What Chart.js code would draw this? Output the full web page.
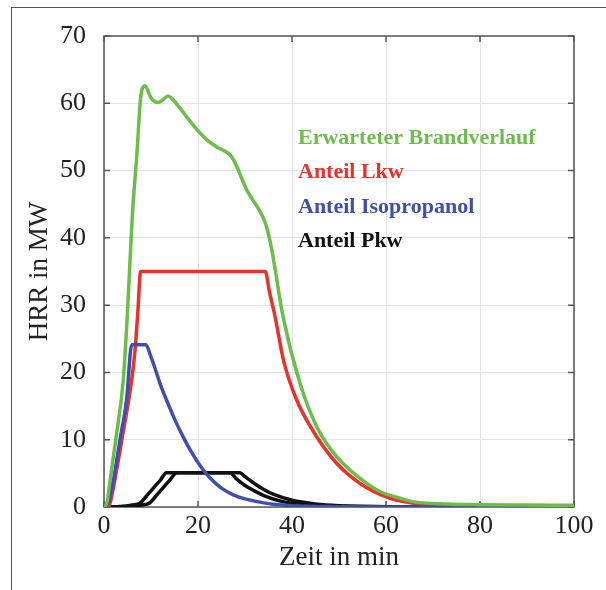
<!DOCTYPE html>
<html>
<head>
<meta charset="utf-8">
<title>HRR in MW</title>
<script src="https://cdn.jsdelivr.net/npm/chart.js@4.4.0/dist/chart.umd.min.js"></script>
<style>
  html, body { margin: 0; padding: 0; background: #fff; }
  #wrap { position: relative; width: 606px; height: 590px; overflow: hidden; }
  #frame { position: absolute; left: 11px; top: 7px; width: 620px; height: 600px;
           border-left: 1.5px solid #555; border-top: 1.5px solid #555; }
  #chart { position: absolute; left: 0; top: 0; }
</style>
</head>
<body>
<div id="wrap">
  <div id="frame"></div>
  <canvas id="chart" width="606" height="590"></canvas>
</div>
<script>
// --------------------------- Data

const seriesNames = ['Erwarteter Brandverlauf', 'Anteil Lkw', 'Anteil Isopropanol', 'Anteil Pkw'];

const xTicks = [0, 20, 40, 60, 80, 100];
const yTicks = [0, 10, 20, 30, 40, 50, 60, 70];

// Erwarteter Brandverlauf (total)
const tTotal = [0, 0.6, 1.3, 2.5, 4.1, 5, 6, 7, 7.8, 8.7, 10, 11.5, 12.5, 13.6, 15.7, 18, 20.4, 22, 24, 27.2,
                30.4, 33.8, 34.6, 35.7, 38.1, 41.7, 45.3, 49.5, 55.9, 58.7, 63, 65.7, 72.9, 80, 90, 100];
const hrrTotal = [0, 0.6, 4, 10, 18.9, 29, 43, 52.5, 60.8, 62.6, 60.8, 60.1, 60.5, 61.1, 59.7, 57.6, 55.6, 54.5, 53.5, 52,
                  47.1, 43.1, 41.6, 38.2, 28.3, 18.4, 11.9, 7.5, 3.5, 2.3, 1.3, 0.8, 0.45, 0.35, 0.3, 0.25];

// Anteil Lkw
const tLkw = [0, 0.8, 1.3, 2.3, 3.8, 5.9, 6.6, 7.2, 7.8, 34.3, 35.2, 36.4, 38.2, 41, 45.3, 49.5, 54.5, 60.9, 68.7, 75, 100];
const hrrLkw = [0, 0, 0.6, 4, 10, 18.9, 23.3, 29, 35, 35, 32, 28.3, 21.8, 15.9, 10.4, 6.5, 3.5, 1.3, 0.3, 0, 0];

// Anteil Isopropanol
const tIso = [0, 0.9, 2, 3.4, 4.8, 5.9, 8.9, 10, 11, 12, 13.3, 15, 17, 19, 21, 23, 25, 27.5, 30, 35, 40, 50, 60, 100];
const hrrIso = [0, 0.6, 4, 10, 15.9, 24.1, 24.1, 22.3, 20.3, 18.2, 15.9, 13.1, 10.2, 7.7, 5.6, 4.0, 2.8, 1.8, 1.2, 0.5, 0.2, 0.05, 0, 0];

// Anteil Pkw (two vehicles)
const tPkwA = [0, 2, 4, 6, 7.7, 9, 10, 11, 12, 13.3, 28.9, 30, 32, 34, 36, 40, 45, 50, 60, 70, 100];
const hrrPkwA = [0, 0, 0.1, 0.3, 0.6, 1.6, 2.4, 3.2, 4.0, 5.1, 5.1, 4.5, 3.5, 2.6, 1.9, 1.0, 0.45, 0.2, 0.05, 0, 0];
const tPkwB = [0, 4, 6, 8, 9.7, 11, 12, 13, 14, 15.5, 26.8, 28, 30, 32, 34, 38, 43, 48, 58, 68, 100];
const hrrPkwB = [0, 0, 0.1, 0.3, 0.6, 1.6, 2.4, 3.2, 4.0, 5.1, 5.1, 4.3, 3.2, 2.4, 1.7, 0.8, 0.35, 0.15, 0.05, 0, 0];

const COLORS = {
    green: '#6cbd4b',
    red: '#e8322a',
    blue: '#3f4fae',
    black: '#111111'
};

// --------------------------- Helpers

const pts = (ts, ys) => ts.map((t, i) => ({ x: t, y: ys[i] }));

const FONT = "'Liberation Serif', 'Times New Roman', serif";

// light box with inward ticks on all four sides (matlab look)
const boxPlugin = {
    id: 'box',
    beforeDatasetsDraw(chart) {
        const a = chart.chartArea;
        const ctx = chart.ctx;
        const xs = chart.scales.x, ys = chart.scales.y;
        ctx.save();
        ctx.strokeStyle = '#555';
        ctx.lineWidth = 1.5;
        ctx.strokeRect(a.left, a.top, a.right - a.left, a.bottom - a.top);
        ctx.beginPath();
        xTicks.forEach(v => {
            const px = xs.getPixelForValue(v);
            ctx.moveTo(px, a.bottom); ctx.lineTo(px, a.bottom - 6);
            ctx.moveTo(px, a.top); ctx.lineTo(px, a.top + 6);
        });
        yTicks.forEach(v => {
            const py = ys.getPixelForValue(v);
            ctx.moveTo(a.left, py); ctx.lineTo(a.left + 6, py);
            ctx.moveTo(a.right, py); ctx.lineTo(a.right - 6, py);
        });
        ctx.stroke();
        ctx.restore();
    }
};

// text legend inside the plot
const textLegend = {
    id: 'textLegend',
    afterDatasetsDraw(chart) {
        const a = chart.chartArea;
        const ctx = chart.ctx;
        const cols = [COLORS.green, COLORS.red, COLORS.blue, COLORS.black];
        ctx.save();
        ctx.font = "bold 22px " + FONT;
        ctx.textBaseline = 'middle';
        ctx.textAlign = 'left';
        seriesNames.forEach((name, i) => {
            ctx.fillStyle = cols[i];
            ctx.fillText(name, a.left + 194, a.top + 102 + i * 34.5);
        });
        ctx.restore();
    }
};

// --------------------------- Chart

function setupChart() {
    const ctx = document.getElementById('chart');

    const data = {
        datasets: [
            { label: seriesNames[0], data: pts(tTotal, hrrTotal), borderColor: COLORS.green, order: 0 },
            { label: seriesNames[2], data: pts(tIso, hrrIso), borderColor: COLORS.blue, order: 1 },
            { label: seriesNames[1], data: pts(tLkw, hrrLkw), borderColor: COLORS.red, order: 2 },
            { label: seriesNames[3], data: pts(tPkwA, hrrPkwA), borderColor: COLORS.black, order: 3 },
            { label: seriesNames[3], data: pts(tPkwB, hrrPkwB), borderColor: COLORS.black, order: 3 }
        ]
    };

    const options = {
        responsive: false,
        animation: false,
        layout: { padding: { top: 36, right: 32, left: 0, bottom: 0 } },
        plugins: {
            legend: { display: false },
            tooltip: { enabled: false }
        },
        elements: {
            point: { radius: 0 },
            line: { borderWidth: 3.5, fill: false, cubicInterpolationMode: 'monotone' }
        },
        scales: {
            x: {
                type: 'linear',
                min: 0,
                max: 100,
                afterBuildTicks: s => { s.ticks = xTicks.map(v => ({ value: v })); },
                afterFit: s => { s.height = 83; },
                ticks: { color: '#222', padding: 4, font: { family: FONT, size: 26 } },
                grid: { color: '#e4e4e4', lineWidth: 1, drawTicks: false },
                border: { display: false },
                title: { display: true, text: 'Zeit in min', color: '#222',
                         font: { family: FONT, size: 27 }, padding: { top: 0, bottom: 16 } }
            },
            y: {
                type: 'linear',
                min: 0,
                max: 70,
                afterBuildTicks: s => { s.ticks = yTicks.map(v => ({ value: v })); },
                afterFit: s => { s.width = 104; },
                ticks: { color: '#222', padding: 18, font: { family: FONT, size: 26 } },
                grid: { color: '#e4e4e4', lineWidth: 1, drawTicks: false },
                border: { display: false },
                title: { display: true, text: 'HRR in MW', color: '#222',
                         font: { family: FONT, size: 27 }, padding: { top: 24, bottom: 0 } }
            }
        }
    };

    new Chart(ctx, { type: 'line', data: data, options: options, plugins: [boxPlugin, textLegend] });
}

setupChart();
</script>
</body>
</html>
